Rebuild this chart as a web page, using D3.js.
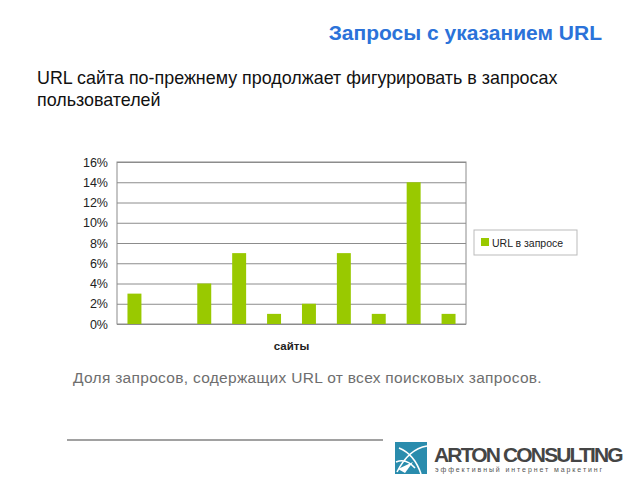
<!DOCTYPE html>
<html>
<head>
<meta charset="utf-8">
<script src="https://cdn.jsdelivr.net/npm/d3@7"></script>
<style>
  body { margin: 0; background: #fff; }
  svg { display: block; font-family: "Liberation Sans", Arial, sans-serif; }
</style>
</head>
<body>
<svg id="slide" width="640" height="480"></svg>
<script>
// chart data
const sites = ["s1", "s2", "s3", "s4", "s5", "s6", "s7", "s8", "s9", "s10"]
const urlShare = [3, 0, 4, 7, 1, 2, 7, 1, 14, 1]
const yTicks = [0, 2, 4, 6, 8, 10, 12, 14, 16]
const seriesName = "URL в запросе"
const axisTitle = "сайты"

const GREEN = "#99c900"
const GRID = "#8c8c8c"

var svg = d3.select("#slide")

// slide title
svg.append("text")
    .attr("x", 602).attr("y", 40)
    .attr("text-anchor", "end")
    .attr("font-size", 21).attr("font-weight", "bold")
    .attr("fill", "#2b72d9")
    .text("Запросы с указанием URL")

var sub = svg.append("text")
    .attr("font-size", 17.9)
    .attr("fill", "#111")
sub.append("tspan").attr("x", 37).attr("y", 84)
    .text("URL сайта по-прежнему продолжает фигурировать в запросах")
sub.append("tspan").attr("x", 37).attr("y", 106)
    .text("пользователей")

// plot area
const plot = { left: 117, right: 466, top: 162, bottom: 324 }

var x = d3.scaleBand()
    .domain(sites)
    .range([plot.left, plot.right])
    .paddingInner(0.6)
    .paddingOuter(0.3)

var y = d3.scaleLinear()
    .domain([0, 16])
    .range([plot.bottom, plot.top])

var chart = svg.append("g")

// gridlines + labels
var yAxis = chart.append("g")
    .attr("transform", "translate(" + plot.left + ",0)")
    .call(d3.axisLeft(y).tickValues(yTicks).tickSize(-(plot.right - plot.left)).tickPadding(9).tickFormat(d => d + "%"))
yAxis.select(".domain").remove()
yAxis.selectAll(".tick line").attr("stroke", GRID)
yAxis.selectAll(".tick text")
    .attr("font-family", "Liberation Sans, Arial, sans-serif")
    .attr("font-size", 12.5).attr("fill", "#222")

// frame
chart.append("rect")
    .attr("x", plot.left).attr("y", y(16))
    .attr("width", plot.right - plot.left).attr("height", y(0) - y(16))
    .attr("fill", "none").attr("stroke", GRID)

chart.append("g")
    .selectAll("rect")
    .data(urlShare)
    .enter().append("rect")
    .attr("x", (d, i) => x(sites[i]))
    .attr("y", d => y(d))
    .attr("width", x.bandwidth())
    .attr("height", d => y(0) - y(d))
    .attr("fill", GREEN)

chart.append("text")
    .attr("x", (plot.left + plot.right) / 2).attr("y", 350)
    .attr("text-anchor", "middle")
    .attr("font-size", 11.5).attr("font-weight", "bold")
    .attr("fill", "#222")
    .text(axisTitle)

// legend
var legend = chart.append("g").attr("transform", "translate(474,230)")
legend.append("rect")
    .attr("width", 103).attr("height", 25)
    .attr("fill", "#fff").attr("stroke", "#bbb")
legend.append("rect")
    .attr("x", 7).attr("y", 8).attr("width", 8).attr("height", 8)
    .attr("fill", GREEN)
legend.append("text")
    .attr("x", 18).attr("y", 16.5)
    .attr("font-size", 10.5).attr("fill", "#222")
    .text(seriesName)

// caption
svg.append("text")
    .attr("x", 73).attr("y", 383)
    .attr("font-size", 15.5).attr("fill", "#6e6e6e")
    .attr("letter-spacing", 0.3)
    .text("Доля запросов, содержащих URL от всех поисковых запросов.")

// footer rule
svg.append("line")
    .attr("x1", 67).attr("x2", 383).attr("y1", 440).attr("y2", 440)
    .attr("stroke", "#444").attr("stroke-width", 1.2)

// logo
var logo = svg.append("g").attr("transform", "translate(395,442)")
logo.append("rect").attr("width", 32).attr("height", 32).attr("fill", "#2a8cad")
logo.append("path")
    .attr("d", "M2,30 C10,14 20,6 32,4 M4,6 C14,10 22,20 26,32 M1,20 C8,17 14,19 20,26")
    .attr("fill", "none").attr("stroke", "#fff").attr("stroke-width", 1.6)
logo.append("path")
    .attr("d", "M3,27 L18,20 L10,31 Z").attr("fill", "#fff")
svg.append("text")
    .attr("x", 434).attr("y", 462)
    .attr("font-size", 21).attr("font-weight", "bold").attr("fill", "#454545")
    .attr("letter-spacing", -1.85)
    .text("ARTON CONSULTING")
svg.append("text")
    .attr("x", 435).attr("y", 472)
    .attr("font-size", 7).attr("fill", "#555")
    .attr("letter-spacing", 1.9)
    .text("эффективный интернет маркетинг")
</script>
</body>
</html>
